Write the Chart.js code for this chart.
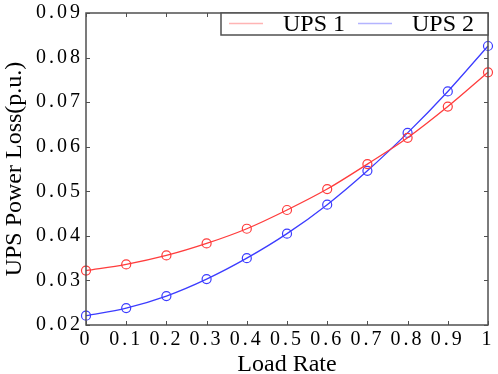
<!DOCTYPE html>
<html>
<head>
<meta charset="utf-8">
<script src="https://cdn.jsdelivr.net/npm/chart.js@4.4.1/dist/chart.umd.min.js"></script>
<style>
  html, body { margin: 0; padding: 0; background: #fff; }
  #wrap { width: 498px; height: 374px; }
</style>
</head>
<body>
<div id="wrap"><canvas id="lossChart" width="498" height="374"></canvas></div>
<script>
// Data
const loadRate = [0, 0.1, 0.2, 0.3, 0.4, 0.5, 0.6, 0.7, 0.8, 0.9, 1];
const ups1Loss = [0.0322, 0.0336, 0.0356, 0.0383, 0.0416, 0.0458, 0.0505, 0.0561, 0.0620, 0.0690, 0.0767];
const ups2Loss = [0.0221, 0.0238, 0.0265, 0.0303, 0.0350, 0.0405, 0.0470, 0.0546, 0.0631, 0.0724, 0.0826];
const xTicks = [0, 0.1, 0.2, 0.3, 0.4, 0.5, 0.6, 0.7, 0.8, 0.9, 1];
const yTicks = [0.02, 0.03, 0.04, 0.05, 0.06, 0.07, 0.08, 0.09];
const seriesNames = ['UPS 1', 'UPS 2'];

const serif = '"Liberation Serif", "Times New Roman", serif';
const red = '#ff3c3c';
const blue = '#3c3cff';

function toPoints(ys) {
    return loadRate.map((x, i) => ({ x: x, y: ys[i] }));
}

// box, inward ticks and legend like the matlab figure
const framePlugin = {
    id: 'frame',
    afterDatasetsDraw(chart) {
        const ctx = chart.ctx;
        const a = chart.chartArea;
        const xs = chart.scales.x, ys = chart.scales.y;
        ctx.save();
        ctx.strokeStyle = '#505050';
        ctx.lineWidth = 1.5;
        ctx.strokeRect(a.left, a.top, a.right - a.left, a.bottom - a.top);
        ctx.lineWidth = 1;
        const len = 4;
        ctx.beginPath();
        xTicks.forEach(v => {
            const px = Math.round(xs.getPixelForValue(v)) + 0.5;
            ctx.moveTo(px, a.bottom); ctx.lineTo(px, a.bottom - len);
            ctx.moveTo(px, a.top); ctx.lineTo(px, a.top + len);
        });
        yTicks.forEach(v => {
            const py = Math.round(ys.getPixelForValue(v)) + 0.5;
            ctx.moveTo(a.left, py); ctx.lineTo(a.left + len, py);
            ctx.moveTo(a.right, py); ctx.lineTo(a.right - len, py);
        });
        ctx.stroke();

        // legend box
        const bx = 221, by = a.top, bw = a.right - 221, bh = 22;
        ctx.fillStyle = '#fff';
        ctx.fillRect(bx, by, bw, bh);
        ctx.strokeStyle = '#505050';
        ctx.lineWidth = 1.5;
        ctx.strokeRect(bx, by, bw, bh);
        const pale = ['#ffb4b4', '#b4b4ff'];
        const lineX = [229, 358];
        const textX = [283, 412];
        ctx.font = '24px ' + serif;
        ctx.textBaseline = 'middle';
        ctx.fillStyle = '#000';
        chart.data.datasets.forEach((ds, i) => {
            ctx.strokeStyle = pale[i];
            ctx.lineWidth = 1.5;
            ctx.beginPath();
            ctx.moveTo(lineX[i], by + 10.5);
            ctx.lineTo(lineX[i] + 34, by + 10.5);
            ctx.stroke();
            ctx.fillText(ds.label, textX[i], by + 12);
        });
        ctx.restore();
        // tick labels are drawn after this (ticks.z = 1), spaced out a bit
        ctx.letterSpacing = '3px';
    },
    afterDraw(chart) {
        chart.ctx.letterSpacing = '0px';
    }
};

const ctx = document.getElementById('lossChart').getContext('2d');
const lossChart = new Chart(ctx, {
    type: 'line',
    data: {
        datasets: [{
            label: seriesNames[0],
            data: toPoints(ups1Loss),
            borderColor: red,
            backgroundColor: 'rgba(0,0,0,0)',
            borderWidth: 1.3,
            pointRadius: 4.5,
            pointBorderWidth: 1.2,
            pointBorderColor: red,
            pointBackgroundColor: 'rgba(0,0,0,0)',
            cubicInterpolationMode: 'monotone',
            clip: false
        }, {
            label: seriesNames[1],
            data: toPoints(ups2Loss),
            borderColor: blue,
            backgroundColor: 'rgba(0,0,0,0)',
            borderWidth: 1.3,
            pointRadius: 4.5,
            pointBorderWidth: 1.2,
            pointBorderColor: blue,
            pointBackgroundColor: 'rgba(0,0,0,0)',
            cubicInterpolationMode: 'monotone',
            clip: false
        }]
    },
    options: {
        responsive: false,
        animation: false,
        layout: { padding: { top: 0, right: 8, left: 0, bottom: 0 } },
        plugins: {
            legend: { display: false },
            tooltip: { enabled: false }
        },
        scales: {
            x: {
                type: 'linear',
                min: 0,
                max: 1,
                afterBuildTicks: s => { s.ticks = xTicks.map(v => ({ value: v })); },
                afterFit: s => { s.height = 49; },
                grid: { display: false, drawTicks: false },
                border: { display: false },
                ticks: {
                    z: 1,
                    color: '#000',
                    padding: 5,
                    maxRotation: 0,
                    autoSkip: false,
                    font: { family: serif, size: 20, lineHeight: 1 },
                    callback: v => String(Number(v.toFixed(1)))
                },
                title: {
                    display: true,
                    text: 'Load Rate',
                    color: '#000',
                    padding: { top: 0, bottom: -3 },
                    font: { family: serif, size: 24, lineHeight: 1 }
                }
            },
            y: {
                min: 0.02,
                max: 0.09,
                afterBuildTicks: s => { s.ticks = yTicks.map(v => ({ value: v })); },
                afterFit: s => { s.width = 86; },
                grid: { display: false, drawTicks: false },
                border: { display: false },
                ticks: {
                    z: 1,
                    color: '#000',
                    padding: 3,
                    font: { family: serif, size: 20, lineHeight: 1 },
                    callback: v => v.toFixed(2)
                },
                title: {
                    display: true,
                    text: 'UPS Power Loss(p.u.)',
                    color: '#000',
                    padding: { top: 0, bottom: 0 },
                    font: { family: serif, size: 24 }
                }
            }
        }
    },
    plugins: [framePlugin]
});
</script>
</body>
</html>
